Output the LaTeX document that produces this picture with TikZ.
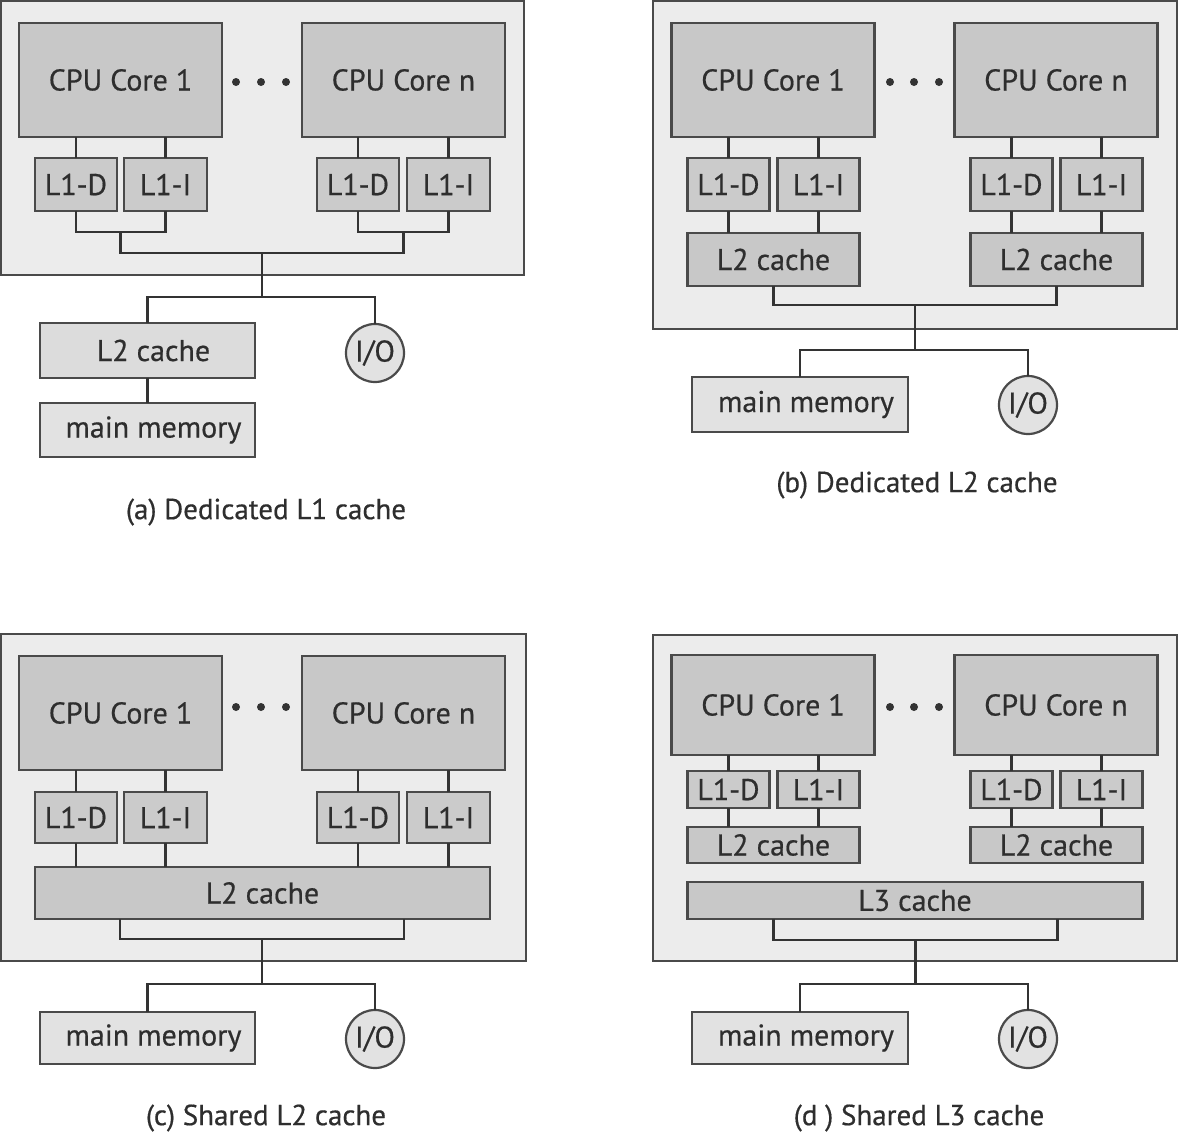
\documentclass[tikz,border=0pt]{standalone}
\usepackage{fontspec}
\setmainfont{PT Sans}
\newfontfamily\lblfam{PT Sans}[FakeBold=0.5]
\definecolor{outerfill}{HTML}{ECECEC}
\definecolor{framecol}{HTML}{4A4A4A}
\definecolor{corefill}{HTML}{C8C8C8}
\definecolor{l1fill}{HTML}{CBCBCB}
\definecolor{l2out}{HTML}{DCDCDC}
\definecolor{memfill}{HTML}{E2E2E2}
\definecolor{linecol}{HTML}{333333}
\definecolor{txtcol}{HTML}{2E2E2E}
\newcommand{\lblfont}{\lblfam\fontsize{15}{18}\selectfont}
\newcommand{\capfont}{\lblfam\fontsize{14.5}{17}\selectfont}
\newcommand{\bx}[7]{\node[#2, minimum width={((#5)-(#3))*0.5pt}, minimum height={((#6)-(#4))*0.5pt}] (#1) at ({((#3)+(#5))/2},{((#4)+(#6))/2}) {#7};}
\tikzset{
  basebox/.style={inner sep=0pt, outer sep=0pt, line width=1.1pt, text=txtcol, font=\lblfont},
  outerbox/.style={basebox, draw=framecol, fill=outerfill},
  corebox/.style={basebox, draw=framecol, fill=corefill},
  lonebox/.style={basebox, draw=framecol, fill=l1fill},
  ltwoout/.style={basebox, draw=framecol, fill=l2out},
  membox/.style={basebox, draw=framecol, fill=memfill},
  iobox/.style={circle, inner sep=0pt, outer sep=0pt, line width=1.1pt, draw=framecol, fill=memfill, minimum size=29pt, text=txtcol, font=\lblfont},
  conn/.style={draw=linecol, line width=1.35pt},
  captext/.style={inner sep=0pt, text=txtcol, font=\capfont},
  dotfill/.style={fill=linecol}
}
\begin{document}
\begin{tikzpicture}[x=0.5pt,y=-0.5pt]
\useasboundingbox (0,0) rectangle (1180,1136);
\fill[white] (0,0) rectangle (1180,1136);

% ---------------- panel (a)
\bx{a-out}{outerbox}{1}{1}{524}{275}{}
\bx{a-c1}{corebox}{19}{23}{222}{137}{CPU Core 1}
\bx{a-cn}{corebox}{302}{23}{505}{137}{CPU Core n}
\foreach \x in {236,261,286} \fill[dotfill] (\x,82) circle[radius=2pt];
\bx{a-d1}{lonebox}{35}{158}{117}{211}{L1-D}
\bx{a-i1}{lonebox}{124}{158}{207}{211}{L1-I}
\bx{a-dn}{lonebox}{317}{158}{399}{211}{L1-D}
\bx{a-in}{lonebox}{407}{158}{490}{211}{L1-I}
\foreach \n/\c in {d1/c1,i1/c1,dn/cn,in/cn}
  \draw[conn] (a-\n.north) -- (a-\n.north |- a-\c.south);
\draw[conn] (a-d1.south) -- (a-d1.south |- 0,232) -| (a-i1.south);
\draw[conn] (a-dn.south) -- (a-dn.south |- 0,232) -| (a-in.south);
\coordinate (a-j1) at (120.75,232);
\coordinate (a-j2) at (403.25,232);
\coordinate (a-t) at (262,253);
\draw[conn] (a-j1) |- (a-t) -| (a-j2);
\bx{a-l2}{ltwoout}{40}{323}{255}{378}{\hspace*{6pt}L2 cache}
\bx{a-mm}{membox}{40}{403}{255}{457}{\hspace*{6pt}main memory}
\node[iobox] (a-io) at (375,353) {I/O};
\draw[conn] (a-t) -- (a-t |- 0,297);
\draw[conn] (a-l2.north) -- (a-l2.north |- 0,297) -| (a-io.north);
\draw[conn] (a-l2.south) -- (a-mm.north);
\node[captext] (a-cap) at (266,512) {(a) Dedicated L1 cache};

% ---------------- panel (b)
\begin{scope}[shift={(652.5,0)}]
\bx{b-out}{outerbox}{0.5}{1}{524.5}{329}{}
\bx{b-c1}{corebox}{19}{23}{222}{137}{CPU Core 1}
\bx{b-cn}{corebox}{302}{23}{505}{137}{CPU Core n}
\foreach \x in {237.5,261.5,286.5} \fill[dotfill] (\x,82) circle[radius=2pt];
\bx{b-d1}{lonebox}{35}{158}{117}{211}{L1-D}
\bx{b-i1}{lonebox}{125}{158}{207}{211}{L1-I}
\bx{b-dn}{lonebox}{318}{158}{400}{211}{L1-D}
\bx{b-in}{lonebox}{408}{158}{490}{211}{L1-I}
\bx{b-l2a}{corebox}{35}{233}{207}{286}{L2 cache}
\bx{b-l2b}{corebox}{318}{233}{490}{286}{L2 cache}
\foreach \n/\c/\l in {d1/c1/l2a,i1/c1/l2a,dn/cn/l2b,in/cn/l2b}{
  \draw[conn] (b-\n.north) -- (b-\n.north |- b-\c.south);
  \draw[conn] (b-\n.south) -- (b-\n.south |- b-\l.north);
}
\coordinate (b-t) at (262.5,305);
\draw[conn] (b-l2a.south) |- (b-t) -| (b-l2b.south);
\bx{b-mm}{membox}{39.5}{377}{255.5}{432}{\hspace*{6pt}main memory}
\node[iobox] (b-io) at (375.5,405) {I/O};
\draw[conn] (b-t) -- (b-t |- 0,350);
\draw[conn] (b-mm.north) -- (b-mm.north |- 0,350) -| (b-io.north);
\node[captext] (b-cap) at (264.5,485) {(b) Dedicated L2 cache};
\end{scope}

% ---------------- panel (c)
\begin{scope}[shift={(0,633)}]
\bx{c-out}{outerbox}{1}{1}{526}{328}{}
\bx{c-c1}{corebox}{19}{23}{222}{137}{CPU Core 1}
\bx{c-cn}{corebox}{302}{23}{505}{137}{CPU Core n}
\foreach \x in {236,261,286} \fill[dotfill] (\x,74) circle[radius=2pt];
\bx{c-d1}{lonebox}{35}{159}{117}{210}{L1-D}
\bx{c-i1}{lonebox}{124}{159}{207}{210}{L1-I}
\bx{c-dn}{lonebox}{317}{159}{399}{210}{L1-D}
\bx{c-in}{lonebox}{407}{159}{490}{210}{L1-I}
\bx{c-l2}{corebox}{35}{234}{490}{286}{L2 cache}
\foreach \n/\c in {d1/c1,i1/c1,dn/cn,in/cn}{
  \draw[conn] (c-\n.north) -- (c-\n.north |- c-\c.south);
  \draw[conn] (c-\n.south) -- (c-\n.south |- c-l2.north);
}
\coordinate (c-t) at (262,306);
\draw[conn] (c-l2.south -| 120,0) |- (c-t) -| (c-l2.south -| 404,0);
\bx{c-mm}{membox}{40}{379}{255}{431}{\hspace*{6pt}main memory}
\node[iobox] (c-io) at (375,406) {I/O};
\draw[conn] (c-t) -- (c-t |- 0,351);
\draw[conn] (c-mm.north) -- (c-mm.north |- 0,351) -| (c-io.north);
\node[captext] (c-cap) at (266,485) {(c) Shared L2 cache};
\end{scope}

% ---------------- panel (d)
\begin{scope}[shift={(652.5,633)}]
\bx{d-out}{outerbox}{0.5}{2}{524.5}{328}{}
\bx{d-c1}{corebox}{19}{22}{222}{122}{CPU Core 1}
\bx{d-cn}{corebox}{302}{22}{505}{122}{CPU Core n}
\foreach \x in {237.5,261.5,286.5} \fill[dotfill] (\x,74) circle[radius=2pt];
\bx{d-d1}{lonebox}{35}{138}{117}{175}{L1-D}
\bx{d-i1}{lonebox}{125}{138}{207}{175}{L1-I}
\bx{d-dn}{lonebox}{318}{138}{400}{175}{L1-D}
\bx{d-in}{lonebox}{408}{138}{490}{175}{L1-I}
\bx{d-l2a}{corebox}{35}{194}{207}{230}{L2 cache}
\bx{d-l2b}{corebox}{318}{194}{490}{230}{L2 cache}
\bx{d-l3}{corebox}{35}{249}{490}{286}{L3 cache}
\foreach \n/\c/\l in {d1/c1/l2a,i1/c1/l2a,dn/cn/l2b,in/cn/l2b}{
  \draw[conn] (d-\n.north) -- (d-\n.north |- d-\c.south);
  \draw[conn] (d-\n.south) -- (d-\n.south |- d-\l.north);
}
\coordinate (d-t) at (263,307);
\draw[conn] (d-l3.south -| 121,0) |- (d-t) -| (d-l3.south -| 405,0);
\bx{d-mm}{membox}{39.5}{379}{255.5}{431}{\hspace*{6pt}main memory}
\node[iobox] (d-io) at (375.5,406) {I/O};
\draw[conn] (d-t) -- (d-t |- 0,351);
\draw[conn] (d-mm.north) -- (d-mm.north |- 0,351) -| (d-io.north);
\node[captext] (d-cap) at (266.5,485) {(d ) Shared L3 cache};
\end{scope}
\end{tikzpicture}
\end{document}
